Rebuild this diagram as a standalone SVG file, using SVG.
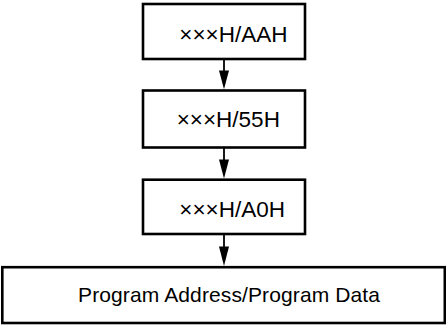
<svg xmlns="http://www.w3.org/2000/svg" width="446" height="325" viewBox="0 0 446 325">
<style>
.box{fill:#fff;stroke:#000;stroke-width:2.6}
.lbl{font-family:"Liberation Sans",Arial,sans-serif;font-size:21px;fill:#000}
.hex{font-size:22.5px}
.conn{stroke:#000;stroke-width:1.8;fill:none}
.head{fill:#000}
</style>
<rect width="446" height="325" fill="#fff"/>
<g id="connectors">
<line class="conn" x1="224" y1="60" x2="224" y2="75"/>
<polygon class="head" points="219,70.5 229,70.5 224,89.3"/>
<line class="conn" x1="224" y1="148" x2="224" y2="163"/>
<polygon class="head" points="219,159.5 229,159.5 224,178.4"/>
<line class="conn" x1="224" y1="235" x2="224" y2="250"/>
<polygon class="head" points="219,246.5 229,246.5 224,265.9"/>
</g>
<g id="n1"><rect class="box" x="143" y="4" width="162" height="55"/><text class="lbl hex" x="179.3" y="41.7">×××H/AAH</text></g>
<g id="n2"><rect class="box" x="143" y="90.5" width="162" height="57"/><text class="lbl hex" x="176.7" y="126.7">×××H/55H</text></g>
<g id="n3"><rect class="box" x="143" y="179.7" width="162" height="54.3"/><text class="lbl hex" x="179.3" y="216.7">×××H/A0H</text></g>
<g id="n4"><rect class="box" x="2.3" y="267.2" width="442.5" height="55.8"/><text class="lbl" x="78" y="301.7" textLength="302" lengthAdjust="spacing">Program Address/Program Data</text></g>
</svg>
